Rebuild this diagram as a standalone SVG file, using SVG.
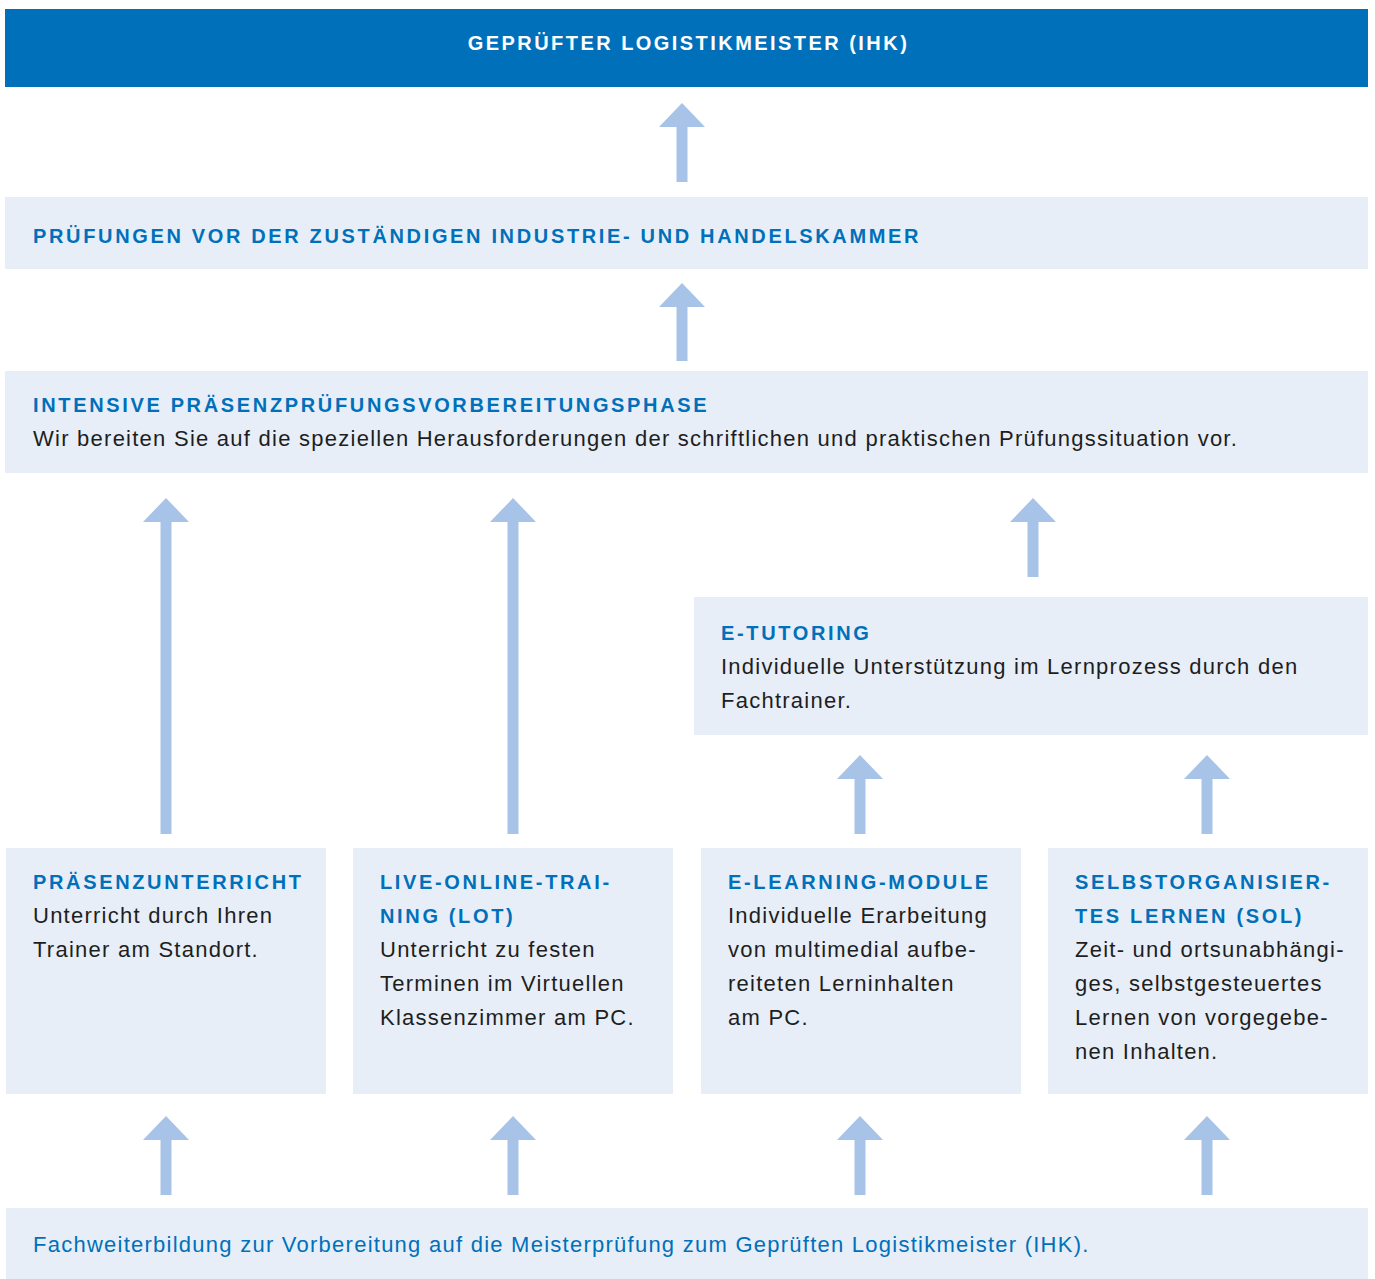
<svg xmlns="http://www.w3.org/2000/svg" width="1375" height="1279" viewBox="0 0 1375 1279">
<style>
.bar{fill:#0070ba}
.box{fill:#e7eef8}
.arr{fill:#a7c3e7}
.title{font-family:"Liberation Sans",Arial,sans-serif;font-weight:bold;font-size:20px;letter-spacing:2.45px;fill:#ffffff}
.head{font-family:"Liberation Sans",Arial,sans-serif;font-weight:bold;font-size:20px;letter-spacing:2.65px;fill:#0070ba}
.body{font-family:"Liberation Sans",Arial,sans-serif;font-size:22px;letter-spacing:1.25px;fill:#1e1e1e}
.blue{font-family:"Liberation Sans",Arial,sans-serif;font-size:22px;letter-spacing:1.25px;fill:#0070ba}
</style>
<rect width="1375" height="1279" fill="#ffffff"/>
<g id="connectors">
<path class="arr" d="M682,103 L705,127 L687.5,127 L687.5,182 L676.5,182 L676.5,127 L659,127 Z"/>
<path class="arr" d="M682,283 L705,307 L687.5,307 L687.5,361 L676.5,361 L676.5,307 L659,307 Z"/>
<path class="arr" d="M166,498 L189,522 L171.5,522 L171.5,834 L160.5,834 L160.5,522 L143,522 Z"/>
<path class="arr" d="M513,498 L536,522 L518.5,522 L518.5,834 L507.5,834 L507.5,522 L490,522 Z"/>
<path class="arr" d="M1033,498 L1056,522 L1038.5,522 L1038.5,577 L1027.5,577 L1027.5,522 L1010,522 Z"/>
<path class="arr" d="M860,755 L883,779 L865.5,779 L865.5,834 L854.5,834 L854.5,779 L837,779 Z"/>
<path class="arr" d="M1207,755 L1230,779 L1212.5,779 L1212.5,834 L1201.5,834 L1201.5,779 L1184,779 Z"/>
<path class="arr" d="M166,1116 L189,1140 L171.5,1140 L171.5,1195 L160.5,1195 L160.5,1140 L143,1140 Z"/>
<path class="arr" d="M513,1116 L536,1140 L518.5,1140 L518.5,1195 L507.5,1195 L507.5,1140 L490,1140 Z"/>
<path class="arr" d="M860,1116 L883,1140 L865.5,1140 L865.5,1195 L854.5,1195 L854.5,1140 L837,1140 Z"/>
<path class="arr" d="M1207,1116 L1230,1140 L1212.5,1140 L1212.5,1195 L1201.5,1195 L1201.5,1140 L1184,1140 Z"/>
</g>
<g id="node-meister">
<rect class="bar" x="5" y="9" width="1363" height="78"/>
<text class="title" x="688.5" y="50" text-anchor="middle">GEPRÜFTER LOGISTIKMEISTER (IHK)</text>
</g>
<g id="node-pruefungen">
<rect class="box" x="5" y="197" width="1363" height="72"/>
<text class="head" x="33" y="243">PRÜFUNGEN VOR DER ZUSTÄNDIGEN INDUSTRIE- UND HANDELSKAMMER</text>
</g>
<g id="node-intensive">
<rect class="box" x="5" y="371" width="1363" height="102"/>
<text class="head" x="33" y="412">INTENSIVE PRÄSENZPRÜFUNGSVORBEREITUNGSPHASE</text>
<text class="body" x="33" y="446">Wir bereiten Sie auf die speziellen Herausforderungen der schriftlichen und praktischen Prüfungssituation vor.</text>
</g>
<g id="node-etutoring">
<rect class="box" x="694" y="597" width="674" height="138"/>
<text class="head" x="721" y="640">E-TUTORING</text>
<text class="body" x="721" y="674">Individuelle Unterstützung im Lernprozess durch den</text>
<text class="body" x="721" y="708">Fachtrainer.</text>
</g>
<g id="node-praesenz">
<rect class="box" x="6" y="848" width="320" height="246"/>
<text class="head" x="33" y="889">PRÄSENZUNTERRICHT</text>
<text class="body" x="33" y="923">Unterricht durch Ihren</text>
<text class="body" x="33" y="957">Trainer am Standort.</text>
</g>
<g id="node-lot">
<rect class="box" x="353" y="848" width="320" height="246"/>
<text class="head" x="380" y="889">LIVE-ONLINE-TRAI-</text>
<text class="head" x="380" y="923">NING (LOT)</text>
<text class="body" x="380" y="957">Unterricht zu festen</text>
<text class="body" x="380" y="991">Terminen im Virtuellen</text>
<text class="body" x="380" y="1025">Klassenzimmer am PC.</text>
</g>
<g id="node-elearning">
<rect class="box" x="701" y="848" width="320" height="246"/>
<text class="head" x="728" y="889">E-LEARNING-MODULE</text>
<text class="body" x="728" y="923">Individuelle Erarbeitung</text>
<text class="body" x="728" y="957">von multimedial aufbe-</text>
<text class="body" x="728" y="991">reiteten Lerninhalten</text>
<text class="body" x="728" y="1025">am PC.</text>
</g>
<g id="node-sol">
<rect class="box" x="1048" y="848" width="320" height="246"/>
<text class="head" x="1075" y="889">SELBSTORGANISIER-</text>
<text class="head" x="1075" y="923">TES LERNEN (SOL)</text>
<text class="body" x="1075" y="957">Zeit- und ortsunabhängi-</text>
<text class="body" x="1075" y="991">ges, selbstgesteuertes</text>
<text class="body" x="1075" y="1025">Lernen von vorgegebe-</text>
<text class="body" x="1075" y="1059">nen Inhalten.</text>
</g>
<g id="node-fachweiterbildung">
<rect class="box" x="6" y="1208" width="1362" height="71"/>
<text class="blue" x="33" y="1252">Fachweiterbildung zur Vorbereitung auf die Meisterprüfung zum Geprüften Logistikmeister (IHK).</text>
</g>
</svg>
